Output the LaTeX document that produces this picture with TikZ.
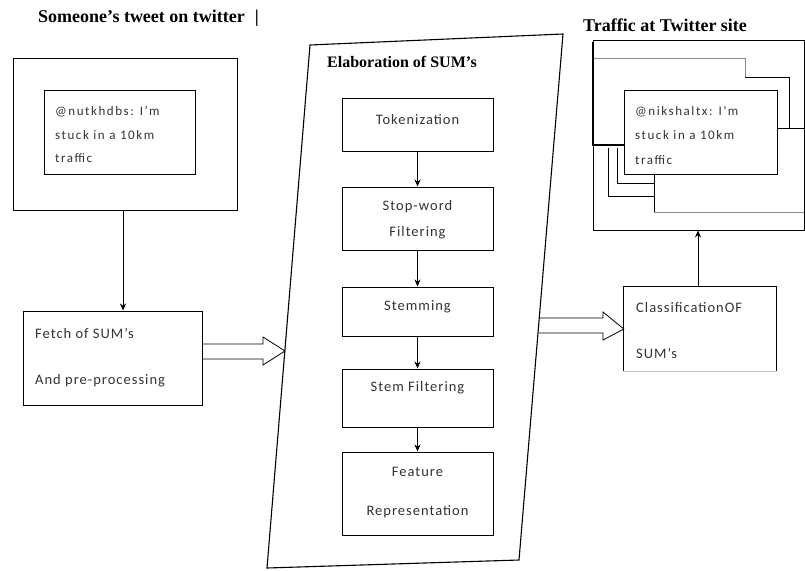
\documentclass[tikz,border=0pt]{standalone}
\usepackage{fontspec}
\setmainfont{Carlito}
\newfontfamily\titlefont{Liberation Serif}
\newfontfamily\boxfont[LetterSpace=7]{Carlito}
\newfontfamily\tweetfont[LetterSpace=12]{Carlito}
\usetikzlibrary{arrows.meta}
\begin{document}
\begin{tikzpicture}[x=1pt,y=-1pt,
  box/.style={draw, line width=1pt, inner sep=0pt},
  lbl/.style={font=\boxfont\fontsize{14.5}{16}\selectfont, inner sep=0pt, text=black!80},
  tw/.style={font=\tweetfont\fontsize{13}{14}\selectfont, inner sep=0pt, anchor=west, text=black!80},
  ttl/.style={font=\titlefont\bfseries\fontsize{18}{20}\selectfont, inner sep=0pt, anchor=west},
  arr/.style={-{Stealth[length=7pt,width=6pt]}, line width=0.6pt},
  fat/.style={line width=0.8pt, line join=miter}]
\useasboundingbox (0,0) rectangle (805,570);
\fill[white] (0,0) rectangle (805,570);

% ---------- titles
\node[ttl] (t1) at (38,18) {Someone’s tweet on twitter\hspace{10pt}|};
\node[ttl, font=\titlefont\bfseries\fontsize{16}{18}\selectfont] (t2) at (327,62) {Elaboration of SUM’s};
\node[ttl] (t3) at (583,25) {Traffic at Twitter site};

% ---------- left column
\node[box, line width=0.8pt, minimum width=224pt, minimum height=152pt] (outer1) at (125,134) {};
\node[box, minimum width=151pt, minimum height=84pt] (tweet1) at (119.5,132) {};
\node[tw] (tw1a) at (55,112) {@nutkhdbs: I’m};
\node[tw] (tw1b) at (55,135) {stuck in a 10km};
\node[tw] (tw1c) at (55,158) {traffic};

\node[box, minimum width=179pt, minimum height=94pt] (fetch) at (112.5,358) {};
\node[lbl, anchor=west] (f1) at (35,333) {Fetch of SUM’s};
\node[lbl, anchor=west] (f2) at (35,381) {And pre-processing};
\draw[arr] ([xshift=-2pt]outer1.south) -- ([xshift=-2pt]outer1.south |- fetch.north);

% ---------- parallelogram
\coordinate (p1) at (310,45);
\coordinate (p2) at (563,34);
\coordinate (p3) at (519,560);
\coordinate (p4) at (267,568);
\draw[line width=1.1pt] (p1) -- (p2) -- (p3) -- (p4) -- cycle;

\node[box, minimum width=151pt, minimum height=53pt] (tok) at (417.5,124.5) {};
\node[lbl] (tokl) at (417.5,120) {Tokenization};
\node[box, minimum width=151pt, minimum height=63pt] (stop) at (417.5,218.5) {};
\node[lbl] (stopa) at (417.5,207) {Stop-word};
\node[lbl] (stopb) at (417.5,233) {Filtering};
\node[box, minimum width=151pt, minimum height=49pt] (stem) at (417.5,311.5) {};
\node[lbl] (steml) at (417.5,307) {Stemming};
\node[box, minimum width=151pt, minimum height=58pt] (stemf) at (417.5,398) {};
\node[lbl] (stemfl) at (417.5,388) {Stem Filtering};
\node[box, minimum width=151pt, minimum height=83pt] (feat) at (417.5,493.5) {};
\node[lbl] (feata) at (417.5,472) {Feature};
\node[lbl] (featb) at (417.5,512) {Representation};

\draw[arr] (tok.south) -- (stop.north);
\draw[arr] (stop.south) -- (stem.north);
\draw[arr] (stem.south) -- (stemf.north);
\draw[arr] (stemf.south) -- (feat.north);

% hollow arrow fetch -> parallelogram
\draw[fat] (fetch.east |- 0,344) -- (263,344) -- (263,337) -- (285,351) -- (263,365) -- (263,359) -- (fetch.east |- 0,359);

% ---------- right column
\node[box, line width=0.8pt, minimum width=211pt, minimum height=190pt] (frame) at (698.5,135) {};
% back windows
\draw[black!45, line width=0.7pt] (593,58) -- (745,58) -- (745,77);
\draw[line width=1pt] (745,77) -- (789,77) -- (789,128);
\draw[line width=1pt] (777,128) -- (804,128);
\draw[line width=1.2pt] (593,42) -- (593,145) -- (624,145);
\draw[line width=0.9pt] (608,148) -- (608,196) -- (654,196);
\draw[line width=0.9pt] (617,148) -- (617,183) -- (654,183);
\draw[line width=1pt] (654,174) -- (654,212);
\draw[black!45, line width=0.7pt] (654,212) -- (804,212);
% front tweet
\node[box, fill=white, line width=1pt, minimum width=153pt, minimum height=84pt] (tweet2) at (700.5,132) {};
\node[tw] (tw2a) at (635,112) {@nikshaltx: I’m};
\node[tw] (tw2b) at (635,135) {stuck in a 10km};
\node[tw] (tw2c) at (635,160) {traffic};

\node[minimum width=152pt, minimum height=84pt, inner sep=0pt] (cls) at (700,329) {};
\draw[line width=1pt] (cls.south west) -- (cls.north west) -- (cls.north east) -- (cls.south east);
\draw[black!25, line width=0.6pt] (cls.south west) -- (cls.south east);
\node[lbl, anchor=west] (c1) at (636,308) {ClassificationOF};
\node[lbl, anchor=west] (c2) at (636,353) {SUM’s};
\draw[arr, line width=1pt] ([xshift=-2pt]cls.north) -- ([xshift=-2pt]cls.north |- frame.south);

% hollow arrow parallelogram -> classification
\draw[fat] (539,318) -- (603,318) -- (603,312) -- (cls.west) -- (603,340) -- (603,333) -- (539,333);

\end{tikzpicture}
\end{document}
